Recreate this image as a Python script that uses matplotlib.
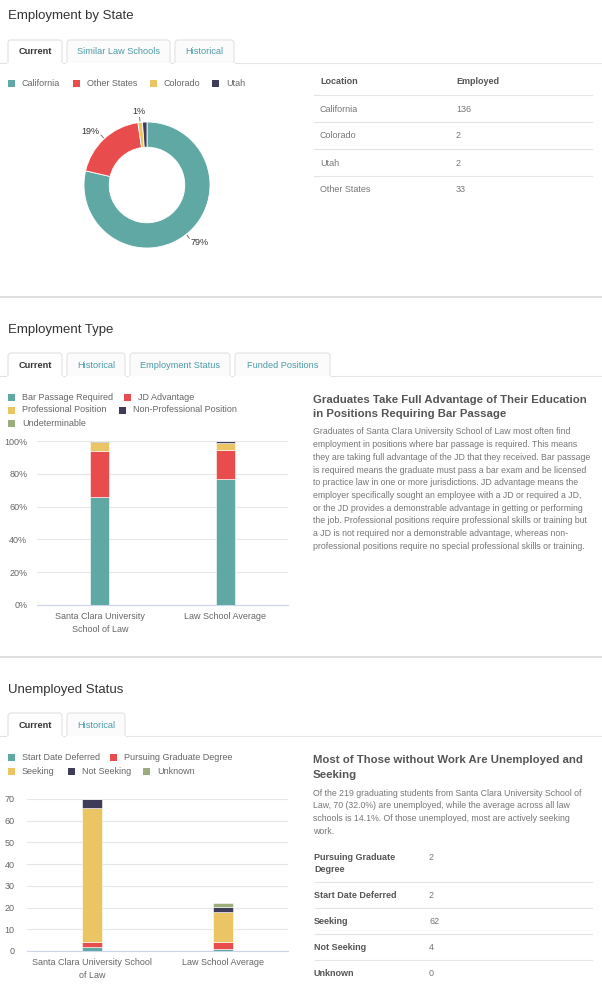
import numpy as np
import matplotlib
matplotlib.use("Agg")
import matplotlib.pyplot as plt
from matplotlib.patches import FancyBboxPatch, Rectangle

plt.rcParams['font.family'] = ['Liberation Sans', 'DejaVu Sans']

W, H = 602, 994

# ---- data ----
states = ['California', 'Other States', 'Colorado', 'Utah']
state_employed = [136, 33, 2, 2]
state_table_order = ['California', 'Colorado', 'Utah', 'Other States']
state_colors = ['#60a8a4', '#e84c4c', '#ebc463', '#3e3c58']

emp_types = ['Bar Passage Required', 'JD Advantage', 'Professional Position',
             'Non-Professional Position', 'Undeterminable']
emp_schools = ['Santa Clara University\nSchool of Law', 'Law School Average']
emp_santa_clara = [65.6, 28.4, 5.4, 0.6, 0.0]
emp_average = [76.7, 17.7, 4.2, 1.2, 0.2]

unemp_cats = ['Start Date Deferred', 'Pursuing Graduate Degree', 'Seeking',
              'Not Seeking', 'Unknown']
unemp_schools = ['Santa Clara University School\nof Law', 'Law School Average']
unemp_santa_clara = [2, 2, 62, 4, 0]
unemp_average = [0.8, 3.2, 13.9, 2.2, 1.9]
unemp_table_order = ['Pursuing Graduate\nDegree', 'Start Date Deferred', 'Seeking',
                     'Not Seeking', 'Unknown']
unemp_table_vals = [2, 2, 62, 4, 0]

series_colors = ['#60a8a4', '#e84c4c', '#ebc463', '#3e3c58', '#9cad7b']

emp_text = [
    "Graduates of Santa Clara University School of Law most often find",
    "employment in positions where bar passage is required. This means",
    "they are taking full advantage of the JD that they received. Bar passage",
    "is required means the graduate must pass a bar exam and be licensed",
    "to practice law in one or more jurisdictions. JD advantage means the",
    "employer specifically sought an employee with a JD or required a JD,",
    "or the JD provides a demonstrable advantage in getting or performing",
    "the job. Professional positions require professional skills or training but",
    "a JD is not required nor a demonstrable advantage, whereas non-",
    "professional positions require no special professional skills or training.",
]
unemp_text = [
    "Of the 219 graduating students from Santa Clara University School of",
    "Law, 70 (32.0%) are unemployed, while the average across all law",
    "schools is 14.1%. Of those unemployed, most are actively seeking",
    "work.",
]

TITLE_C = '#333333'
TEXT_C = '#777777'
LEG_C = '#666666'
TAB_C = '#4b9ba6'
LINE_C = '#e3e3e3'
BODY_FS = 6.35
SMALL_FS = 6.5


def rect(x0, y0, x1, y1):
    return [x0 / W, 1 - y1 / H, (x1 - x0) / W, (y1 - y0) / H]


fig = plt.figure(figsize=(W / 100, H / 100), dpi=100)
fig.patch.set_facecolor('white')

# overlay for page furniture
ov = fig.add_axes([0, 0, 1, 1])
ov.set_xlim(0, W)
ov.set_ylim(H, 0)
ov.axis('off')


def tabs(names, x_edges, y0, y1):
    ov.plot([0, W], [y1, y1], color=LINE_C, lw=0.8, zorder=1)
    for i, (name, (xa, xb)) in enumerate(zip(names, x_edges)):
        active = i == 0
        box = FancyBboxPatch((xa, y0), xb - xa, (y1 - y0) + 3,
                             boxstyle="round,pad=0,rounding_size=3",
                             fc='white' if active else '#fbfbfb',
                             ec='#e2e2e2', lw=0.8, zorder=2)
        ov.add_patch(box)
        ov.add_patch(Rectangle((xa - 1, y1 + 0.4), xb - xa + 2, 4, fc='white',
                               ec='none', zorder=3))
        ov.text((xa + xb) / 2, (y0 + y1) / 2 + 0.5, name, ha='center', va='center',
                fontsize=6.6, color='#333333' if active else TAB_C,
                fontweight='bold' if active else 'normal', zorder=4)


def legend_item(x, y, color, label):
    ov.add_patch(Rectangle((x, y - 3.5), 7, 7, fc=color, ec='none'))
    ov.text(x + 14, y, label, ha='left', va='center', fontsize=SMALL_FS, color=LEG_C)


def section_title(y, s):
    ov.text(8, y, s, ha='left', va='center', fontsize=9.5, color=TITLE_C)


# ---- section 1: Employment by State ----
section_title(16, 'Employment by State')
tabs(['Current', 'Similar Law Schools', 'Historical'],
     [(8, 62), (67, 170), (175, 234)], 40, 63)
for x, name in zip([8, 73, 150, 212], states):
    legend_item(x, 83, state_colors[states.index(name)], name)

ax1 = fig.add_axes(rect(84, 122, 210, 248))
total = sum(state_employed)
wedges, _ = ax1.pie(state_employed, colors=state_colors, startangle=90,
                    counterclock=False, radius=1,
                    wedgeprops=dict(width=0.4, edgecolor='white', linewidth=0.6))
ax1.set_xlim(-1, 1)
ax1.set_ylim(-1, 1)
ax1.set_aspect('equal')
for i, w in enumerate(wedges[:3]):
    ang = np.deg2rad((w.theta1 + w.theta2) / 2)
    pct = round(100 * state_employed[i] / total)
    c, s = np.cos(ang), np.sin(ang)
    ax1.plot([1.02 * c, 1.08 * c], [1.02 * s, 1.08 * s], color='#666666', lw=0.6,
             clip_on=False)
    ha = 'left' if c > 0.2 else ('right' if c < -0.2 else 'center')
    ax1.text(1.12 * c, 1.16 * s + (0.02 if abs(c) < 0.2 else 0), f'{pct}%',
             ha=ha, va='center', fontsize=6.5, color='#333333')

# table
ov.text(320, 82, 'Location', ha='left', va='center', fontsize=SMALL_FS,
        color='#555555', fontweight='bold')
ov.text(456, 82, 'Employed', ha='left', va='center', fontsize=SMALL_FS,
        color='#555555', fontweight='bold')
for i, name in enumerate(state_table_order):
    yl = 95 + 27 * i
    ov.plot([314, 592], [yl, yl], color=LINE_C, lw=0.8)
    ov.text(320, yl + 14, name, ha='left', va='center', fontsize=SMALL_FS, color=TEXT_C)
    ov.text(456, yl + 14, str(state_employed[states.index(name)]), ha='left',
            va='center', fontsize=SMALL_FS, color=TEXT_C)

ov.plot([0, W], [297, 297], color='#dcdcdc', lw=1.3)


def stacked(ax, cats, schools, a, b, ymax, step, fmt):
    x = np.arange(len(schools))
    bottom = np.zeros(len(schools))
    for i, cat in enumerate(cats):
        vals = np.array([a[i], b[i]])
        ax.bar(x, vals, bottom=bottom, width=0.155, color=series_colors[i],
               edgecolor='white', linewidth=0.4, zorder=3)
        bottom += vals
    ax.set_xlim(-0.5, 1.5)
    ax.set_ylim(0, ymax)
    ax.set_yticks(np.arange(0, ymax + 1, step))
    ax.yaxis.set_major_formatter(fmt)
    ax.set_xticks(x)
    ax.set_xticklabels(schools, linespacing=1.55)
    ax.grid(axis='y', color='#e6e6e6', lw=0.8, zorder=0)
    for sp in ['top', 'right', 'left']:
        ax.spines[sp].set_visible(False)
    ax.spines['bottom'].set_color('#ccd6eb')
    ax.spines['bottom'].set_linewidth(0.8)
    ax.tick_params(length=0, labelsize=6.5, labelcolor='#666666')
    ax.tick_params(axis='x', pad=5)


# ---- section 2: Employment Type ----
section_title(330, 'Employment Type')
tabs(['Current', 'Historical', 'Employment Status', 'Funded Positions'],
     [(8, 62), (67, 125), (130, 230), (235, 330)], 353, 376)
for (x, y), name in zip([(8, 397), (124, 397), (8, 410), (119, 410), (8, 423)], emp_types):
    legend_item(x, y, series_colors[emp_types.index(name)], name)

ax2 = fig.add_axes(rect(37, 441, 288, 605))
stacked(ax2, emp_types, emp_schools, emp_santa_clara, emp_average, 100, 20,
        plt.FuncFormatter(lambda v, p: f'{v:.0f}%'))
ax2.tick_params(axis='y', pad=7)

ov.text(313, 400, 'Graduates Take Full Advantage of Their Education', ha='left',
        va='center', fontsize=8.2, color='#555555', fontweight='bold')
ov.text(313, 414, 'in Positions Requiring Bar Passage', ha='left',
        va='center', fontsize=8.2, color='#555555', fontweight='bold')
for i, line in enumerate(emp_text):
    ov.text(313, 432 + 12.7 * i, line, ha='left', va='center', fontsize=BODY_FS,
            color=TEXT_C)

ov.plot([0, W], [657, 657], color='#dcdcdc', lw=1.3)

# ---- section 3: Unemployed Status ----
section_title(690, 'Unemployed Status')
tabs(['Current', 'Historical'], [(8, 62), (67, 125)], 713, 736)
for (x, y), name in zip([(8, 757), (110, 757), (8, 771), (68, 771), (143, 771)], unemp_cats):
    legend_item(x, y, series_colors[unemp_cats.index(name)], name)

ax3 = fig.add_axes(rect(27, 799, 288, 951))
stacked(ax3, unemp_cats, unemp_schools, unemp_santa_clara, unemp_average, 70, 10,
        plt.FuncFormatter(lambda v, p: f'{v:.0f}'))
ax3.tick_params(axis='y', pad=9)

ov.text(313, 760, 'Most of Those without Work Are Unemployed and', ha='left',
        va='center', fontsize=8.2, color='#555555', fontweight='bold')
ov.text(313, 775, 'Seeking', ha='left', va='center', fontsize=8.2,
        color='#555555', fontweight='bold')
for i, line in enumerate(unemp_text):
    ov.text(313, 793 + 12.8 * i, line, ha='left', va='center', fontsize=BODY_FS,
            color=TEXT_C)

row_y = [857, 895, 921, 947, 973]
for i, (name, val) in enumerate(zip(unemp_table_order, unemp_table_vals)):
    for j, part in enumerate(name.split('\n')):
        ov.text(314, row_y[i] + 12.5 * j, part, ha='left', va='center',
                fontsize=SMALL_FS, color='#555555', fontweight='bold')
    ov.text(429, row_y[i], str(val), ha='left', va='center', fontsize=SMALL_FS,
            color=TEXT_C)
    if i < len(unemp_table_order) - 1:
        yl = row_y[i + 1] - 13
        ov.plot([315, 592], [yl, yl], color=LINE_C, lw=0.8)

fig.savefig('out.png', dpi=100, facecolor='white')
